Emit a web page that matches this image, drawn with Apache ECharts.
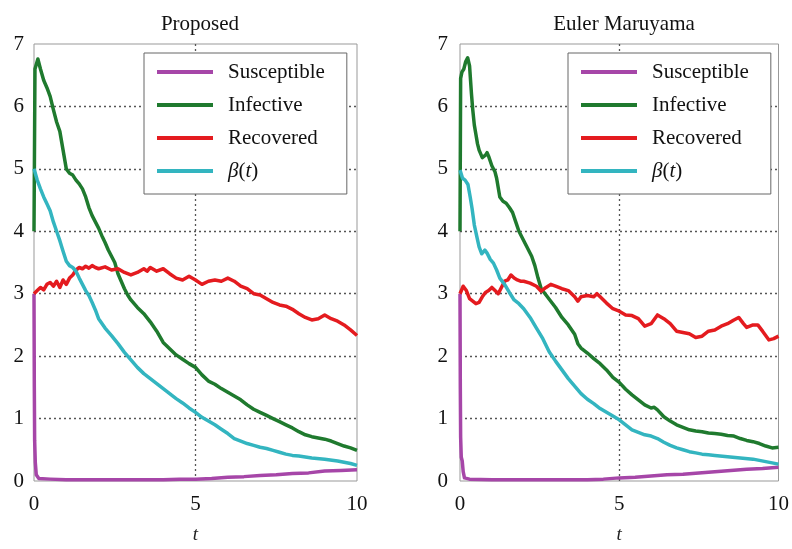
<!DOCTYPE html>
<html>
<head>
<meta charset="utf-8">
<script src="https://cdn.jsdelivr.net/npm/echarts@6/dist/echarts.min.js"></script>
<style>html,body{margin:0;padding:0;background:#fff;}#c{width:792px;height:549px;}</style>
</head>
<body>
<div id="c"></div>
<script>
// ---------- data ----------
var panelTitles = ['Proposed', 'Euler Maruyama'];
var seriesNames = ['Susceptible', 'Infective', 'Recovered', 'β(t)'];
var yTicks = [0, 1, 2, 3, 4, 5, 6, 7];
var xTicks = [0, 5, 10];

var propSusceptible = [[0,3.0],[0.01,1.5],[0.02,0.65],[0.04,0.3],[0.07,0.1],[0.15,0.04],[0.5,0.03],[1,0.02],[2,0.02],[3,0.02],[4,0.02],[4.5,0.03],[5,0.03],[5.5,0.04],[6,0.06],[6.5,0.07],[7,0.09],[7.5,0.1],[8,0.12],[8.5,0.13],[9,0.16],[9.5,0.17],[10,0.18]];
var propInfective = [[0,4.0],[0.03,6.6],[0.12,6.76],[0.2,6.6],[0.3,6.42],[0.4,6.3],[0.5,6.16],[0.6,5.95],[0.7,5.75],[0.8,5.6],[0.9,5.3],[1.0,5.0],[1.1,4.93],[1.2,4.9],[1.3,4.82],[1.4,4.76],[1.5,4.68],[1.6,4.55],[1.7,4.38],[1.8,4.25],[1.9,4.15],[2.0,4.05],[2.1,3.93],[2.2,3.82],[2.3,3.7],[2.4,3.6],[2.5,3.5],[2.6,3.32],[2.7,3.2],[2.8,3.08],[2.9,2.98],[3.0,2.9],[3.2,2.78],[3.4,2.68],[3.6,2.55],[3.8,2.4],[4.0,2.22],[4.2,2.12],[4.4,2.02],[4.6,1.95],[4.8,1.88],[5.0,1.82],[5.2,1.7],[5.4,1.6],[5.6,1.55],[5.8,1.48],[6.0,1.42],[6.2,1.36],[6.4,1.3],[6.6,1.22],[6.8,1.15],[7.0,1.1],[7.2,1.05],[7.4,1.0],[7.6,0.95],[7.8,0.9],[8.0,0.85],[8.2,0.79],[8.4,0.74],[8.6,0.71],[8.8,0.69],[9.0,0.67],[9.2,0.64],[9.4,0.6],[9.6,0.56],[9.8,0.53],[10,0.49]];
var propRecovered = [[0,3.0],[0.1,3.05],[0.2,3.1],[0.3,3.06],[0.4,3.15],[0.5,3.18],[0.6,3.12],[0.7,3.2],[0.8,3.1],[0.9,3.22],[1.0,3.15],[1.1,3.25],[1.2,3.3],[1.3,3.38],[1.4,3.42],[1.5,3.4],[1.6,3.44],[1.7,3.41],[1.8,3.45],[1.9,3.42],[2.0,3.4],[2.2,3.43],[2.4,3.38],[2.6,3.4],[2.8,3.34],[3.0,3.3],[3.2,3.34],[3.4,3.4],[3.5,3.36],[3.6,3.42],[3.8,3.36],[4.0,3.4],[4.2,3.32],[4.4,3.25],[4.6,3.22],[4.8,3.28],[5.0,3.22],[5.2,3.15],[5.4,3.2],[5.6,3.22],[5.8,3.2],[6.0,3.25],[6.2,3.2],[6.4,3.12],[6.6,3.08],[6.8,3.0],[7.0,2.98],[7.2,2.92],[7.4,2.86],[7.6,2.82],[7.8,2.8],[8.0,2.75],[8.2,2.68],[8.4,2.62],[8.6,2.58],[8.8,2.6],[9.0,2.66],[9.2,2.6],[9.4,2.56],[9.6,2.5],[9.8,2.42],[10,2.33]];
var propBeta = [[0,5.0],[0.1,4.82],[0.2,4.68],[0.3,4.55],[0.4,4.44],[0.5,4.33],[0.6,4.15],[0.7,4.0],[0.8,3.85],[0.9,3.68],[1.0,3.52],[1.1,3.45],[1.2,3.42],[1.3,3.36],[1.4,3.25],[1.5,3.15],[1.6,3.05],[1.7,2.97],[1.8,2.86],[1.9,2.74],[2.0,2.6],[2.2,2.45],[2.4,2.33],[2.6,2.2],[2.8,2.06],[3.0,1.94],[3.2,1.82],[3.4,1.72],[3.6,1.64],[3.8,1.56],[4.0,1.48],[4.2,1.4],[4.4,1.32],[4.6,1.25],[4.8,1.17],[5.0,1.1],[5.2,1.02],[5.4,0.96],[5.6,0.9],[5.8,0.83],[6.0,0.76],[6.2,0.68],[6.4,0.64],[6.6,0.6],[6.8,0.57],[7.0,0.54],[7.2,0.52],[7.4,0.49],[7.6,0.46],[7.8,0.43],[8.0,0.41],[8.2,0.4],[8.6,0.37],[9.0,0.35],[9.4,0.32],[9.8,0.28],[10,0.25]];

var emSusceptible = [[0,3.0],[0.01,1.5],[0.02,0.7],[0.04,0.38],[0.07,0.32],[0.1,0.15],[0.14,0.05],[0.3,0.03],[1,0.02],[2,0.02],[3,0.02],[4,0.02],[4.5,0.03],[5,0.05],[5.5,0.06],[6,0.08],[6.5,0.1],[7,0.11],[7.5,0.13],[8,0.15],[8.5,0.17],[9,0.19],[9.5,0.2],[10,0.22]];
var emInfective = [[0,4.0],[0.02,6.45],[0.06,6.55],[0.12,6.6],[0.18,6.72],[0.24,6.78],[0.3,6.65],[0.36,6.2],[0.4,5.95],[0.45,5.7],[0.5,5.55],[0.55,5.4],[0.6,5.3],[0.7,5.18],[0.8,5.22],[0.85,5.26],[0.9,5.2],[1.0,5.05],[1.1,4.95],[1.15,4.85],[1.25,4.55],[1.35,4.48],[1.45,4.45],[1.55,4.38],[1.65,4.3],[1.75,4.15],[1.85,4.0],[1.95,3.9],[2.05,3.8],[2.15,3.7],[2.25,3.6],[2.35,3.45],[2.45,3.25],[2.55,3.08],[2.7,2.98],[2.85,2.88],[3.0,2.78],[3.2,2.62],[3.4,2.5],[3.6,2.35],[3.7,2.2],[3.8,2.13],[4.0,2.05],[4.2,1.96],[4.4,1.88],[4.6,1.78],[4.8,1.66],[5.0,1.58],[5.2,1.47],[5.4,1.38],[5.6,1.3],[5.8,1.22],[6.0,1.17],[6.1,1.18],[6.2,1.14],[6.4,1.03],[6.6,0.96],[6.8,0.9],[7.0,0.86],[7.2,0.82],[7.4,0.8],[7.6,0.79],[7.8,0.77],[8.0,0.76],[8.2,0.75],[8.4,0.73],[8.6,0.72],[8.8,0.68],[9.0,0.65],[9.2,0.63],[9.4,0.6],[9.6,0.56],[9.8,0.53],[10,0.54]];
var emRecovered = [[0,3.0],[0.1,3.12],[0.2,3.05],[0.3,2.92],[0.4,2.88],[0.5,2.84],[0.6,2.86],[0.7,2.95],[0.8,3.02],[0.9,3.05],[1.0,3.1],[1.1,3.05],[1.2,3.0],[1.3,3.1],[1.4,3.2],[1.5,3.22],[1.6,3.3],[1.7,3.25],[1.8,3.22],[1.9,3.2],[2.0,3.2],[2.2,3.17],[2.4,3.12],[2.55,3.04],[2.7,3.1],[2.85,3.15],[3.0,3.12],[3.2,3.08],[3.4,3.05],[3.6,2.95],[3.7,2.88],[3.8,2.95],[4.0,2.97],[4.2,2.95],[4.3,3.0],[4.4,2.95],[4.6,2.85],[4.8,2.76],[5.0,2.72],[5.2,2.66],[5.4,2.65],[5.6,2.6],[5.8,2.48],[6.0,2.52],[6.2,2.66],[6.4,2.6],[6.6,2.52],[6.8,2.4],[7.0,2.38],[7.2,2.36],[7.4,2.3],[7.6,2.32],[7.8,2.4],[8.0,2.42],[8.2,2.48],[8.4,2.52],[8.6,2.58],[8.75,2.62],[8.9,2.52],[9.0,2.46],[9.2,2.5],[9.35,2.5],[9.5,2.4],[9.7,2.26],[9.85,2.28],[10,2.32]];
var emBeta = [[0,4.98],[0.08,4.85],[0.16,4.82],[0.25,4.75],[0.32,4.55],[0.38,4.36],[0.45,4.1],[0.53,3.91],[0.6,3.75],[0.68,3.64],[0.78,3.7],[0.85,3.65],[0.95,3.55],[1.05,3.49],[1.15,3.38],[1.25,3.25],[1.4,3.15],[1.55,3.02],[1.7,2.9],[1.85,2.84],[2.0,2.76],[2.2,2.62],[2.4,2.45],[2.6,2.28],[2.8,2.07],[3.0,1.92],[3.2,1.78],[3.4,1.64],[3.6,1.52],[3.8,1.4],[4.0,1.31],[4.2,1.24],[4.4,1.16],[4.6,1.1],[4.8,1.04],[5.0,0.98],[5.2,0.9],[5.4,0.82],[5.6,0.78],[5.8,0.74],[6.0,0.72],[6.2,0.68],[6.4,0.62],[6.6,0.57],[6.8,0.53],[7.0,0.5],[7.2,0.47],[7.4,0.45],[7.6,0.43],[7.8,0.42],[8.0,0.41],[8.4,0.39],[8.8,0.37],[9.2,0.35],[9.6,0.31],[10,0.27]];

// ---------- chart ----------
var colors = ['#a646a8', '#1f7a2e', '#e41b1f', '#33b5c0'];
var serif = '"Liberation Serif", "DejaVu Serif", serif';
var panels = [
  { grid: {left: 34, right: 435, top: 44, bottom: 61}, legend: {left: 144, top: 53}, titleX: 195, labelMargin: 10,
    data: [propSusceptible, propInfective, propRecovered, propBeta] },
  { grid: {left: 460, right: 12, top: 44, bottom: 61}, legend: {left: 568, top: 53}, titleX: 619, labelMargin: 12,
    data: [emSusceptible, emInfective, emRecovered, emBeta] }
];

var option = {
  animation: false,
  backgroundColor: '#fff',
  title: [], grid: [], xAxis: [], yAxis: [], legend: [], series: []
};

panels.forEach(function (p, i) {
  option.title.push({
    text: panelTitles[i], left: p.titleX, top: 9, textAlign: 'center',
    textStyle: {fontFamily: serif, fontSize: 21, fontWeight: 'normal', color: '#111'}
  });
  option.grid.push(Object.assign({show: true, borderColor: '#999', borderWidth: 1, backgroundColor: 'transparent'}, p.grid));
  option.xAxis.push({
    type: 'value', gridIndex: i, min: xTicks[0], max: xTicks[xTicks.length - 1], interval: xTicks[1] - xTicks[0],
    name: 't', nameLocation: 'middle', nameGap: 44,
    nameTextStyle: {fontFamily: serif, fontSize: 19, fontStyle: 'italic', color: '#222'},
    axisLine: {show: false}, axisTick: {show: false},
    axisLabel: {fontFamily: serif, fontSize: 21, color: '#111', margin: 13},
    splitLine: {show: true, showMinLine: false, showMaxLine: false, lineStyle: {type: [2, 3], color: '#555', width: 1.3}}
  });
  option.yAxis.push({
    type: 'value', gridIndex: i, min: yTicks[0], max: yTicks[yTicks.length - 1], interval: yTicks[1] - yTicks[0],
    axisLine: {show: false}, axisTick: {show: false},
    axisLabel: {fontFamily: serif, fontSize: 21, color: '#111', margin: p.labelMargin},
    splitLine: {show: true, showMinLine: false, showMaxLine: false, lineStyle: {type: [2, 3], color: '#555', width: 1.3}}
  });
  option.legend.push({
    left: p.legend.left, top: p.legend.top, orient: 'vertical',
    data: seriesNames.slice(),
    icon: 'rect', itemWidth: 56, itemHeight: 4, itemGap: 11,
    backgroundColor: '#fff', borderColor: '#666', borderWidth: 1, borderRadius: 0,
    padding: [8, 22, 12, 13],
    selectedMode: false,
    formatter: function (n) { return n === 'β(t)' ? '{i|β}({i|t})' : n; },
    textStyle: {fontFamily: serif, fontSize: 21, color: '#111', lineHeight: 22, padding: [0, 0, 0, 10],
      rich: {i: {fontFamily: serif, fontSize: 21, fontStyle: 'italic', color: '#111', lineHeight: 22}}}
  });
  p.data.forEach(function (d, k) {
    option.series.push({
      name: seriesNames[k], type: 'line', xAxisIndex: i, yAxisIndex: i,
      data: d, showSymbol: false, symbol: 'none',
      lineStyle: {color: colors[k], width: 3.5, join: 'round'},
      itemStyle: {color: colors[k]},
      z: 2 + k
    });
  });
});

var chart = echarts.init(document.getElementById('c'), null, {renderer: 'canvas'});
chart.setOption(option);
</script>
</body>
</html>
